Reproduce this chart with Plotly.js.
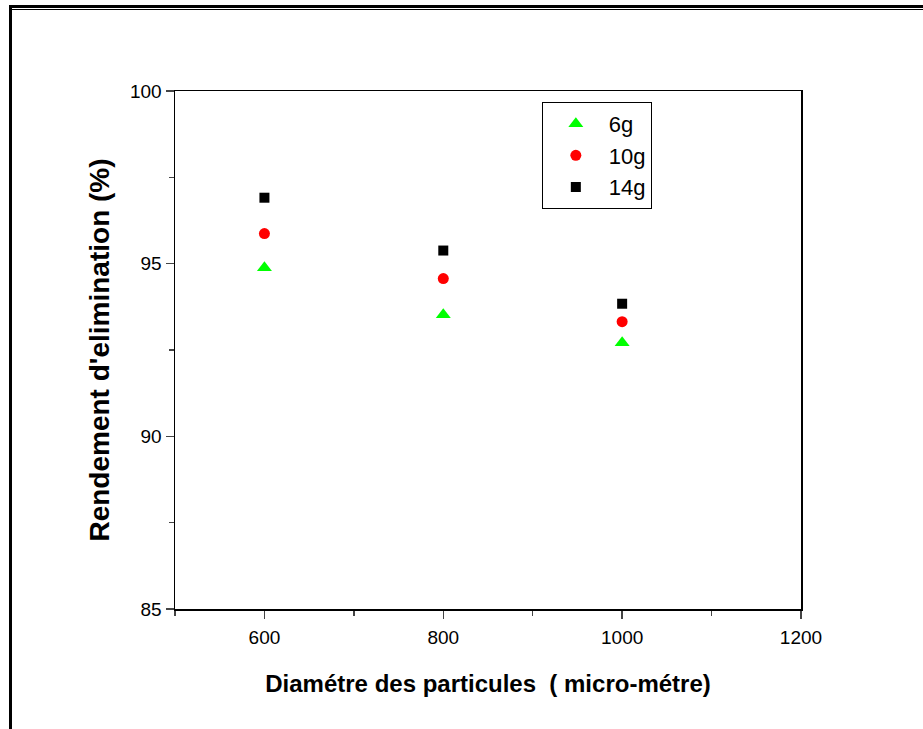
<!DOCTYPE html>
<html><head><meta charset="utf-8">
<script src="https://cdn.plot.ly/plotly-3.0.1.min.js"></script>
<style>
body{margin:0;padding:0;background:#fff;}
#wrap{position:relative;width:923px;height:729px;}
#chart{position:absolute;left:0;top:0;width:923px;height:729px;}
#ft1{position:absolute;left:9px;top:5px;width:914px;height:3px;background:#000;}
#ft2{position:absolute;left:9px;top:9px;width:914px;height:1px;background:#000;}
#fl{position:absolute;left:9px;top:5px;width:3px;height:724px;background:#000;}
</style></head>
<body><div id="wrap"><div id="chart"></div><div id="ft1"></div><div id="ft2"></div><div id="fl"></div></div>
<script>
const diameters = [600, 800, 1000];
const y6g = [94.88, 93.52, 92.71];
const y10g = [95.87, 94.57, 93.32];
const y14g = [96.91, 95.38, 93.84];
const seriesNames = ['6g', '10g', '14g'];

const traces = [
  {x: diameters, y: y6g, name: seriesNames[0], mode: 'markers', type: 'scatter',
   marker: {symbol: 'triangle-up', color: '#00ff00', size: 13}},
  {x: diameters, y: y10g, name: seriesNames[1], mode: 'markers', type: 'scatter',
   marker: {symbol: 'circle', color: '#ff0000', size: 11}},
  {x: diameters, y: y14g, name: seriesNames[2], mode: 'markers', type: 'scatter',
   marker: {symbol: 'square', color: '#000000', size: 10}}
];

const F = 'Liberation Sans, Arial, sans-serif';
const layout = {
  width: 923, height: 729,
  margin: {l: 175, r: 122, t: 91, b: 120},
  paper_bgcolor: '#fff', plot_bgcolor: '#fff',
  font: {family: F, color: '#000', size: 19},
  showlegend: true,
  legend: {x: 0.586, y: 0.979, xanchor: 'left', yanchor: 'top',
    bordercolor: '#000', borderwidth: 1, bgcolor: '#fff',
    font: {size: 22, family: F}, itemwidth: 56, tracegroupgap: 0},
  xaxis: {range: [500, 1200], dtick: 200, tick0: 0, ticks: 'outside', ticklen: 8, tickwidth: 1.5,
    showline: true, linewidth: 1.5, linecolor: '#000', mirror: true, showgrid: false, zeroline: false,
    tickfont: {size: 19}, ticklabelstandoff: 3,
    minor: {dtick: 100, tick0: 0, ticks: 'outside', ticklen: 5, tickwidth: 1.5, showgrid: false},
    title: {text: 'Diamétre des particules  ( micro-métre)', standoff: 28,
      font: {size: 24, family: F, weight: 'bold'}}},
  yaxis: {range: [85, 100], dtick: 5, tick0: 0, ticks: 'outside', ticklen: 8, tickwidth: 1.5,
    showline: true, linewidth: 1.5, linecolor: '#000', mirror: true, showgrid: false, zeroline: false,
    tickfont: {size: 19},
    minor: {dtick: 2.5, tick0: 0, ticks: 'outside', ticklen: 5, tickwidth: 1.5, showgrid: false},
    title: {text: "Rendement d'elimination (%)", standoff: 12,
      font: {size: 28, family: F, weight: 'bold'}}}
};
Plotly.newPlot('chart', traces, layout, {displayModeBar: false, staticPlot: true});
</script></body></html>
